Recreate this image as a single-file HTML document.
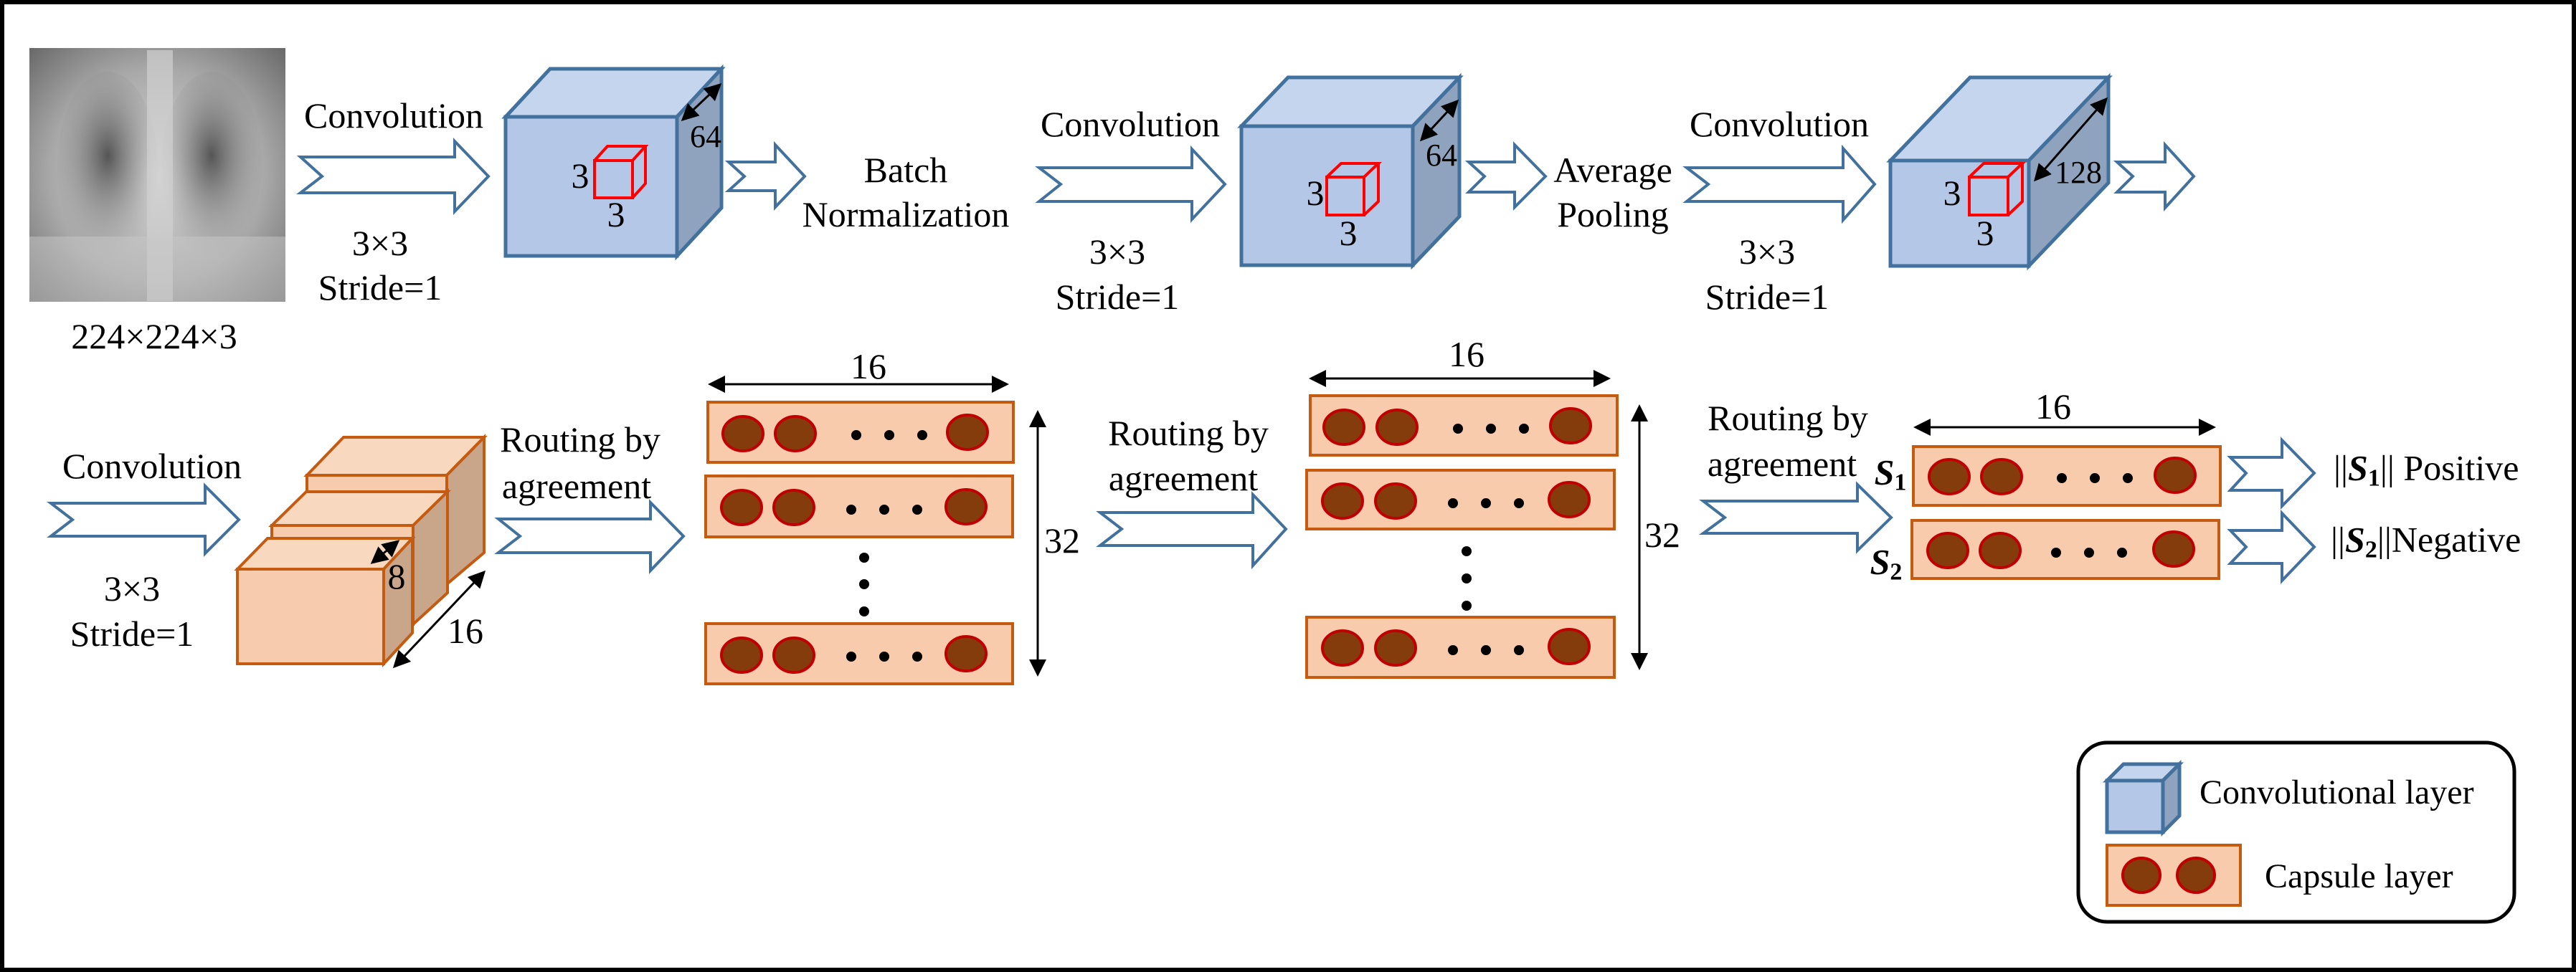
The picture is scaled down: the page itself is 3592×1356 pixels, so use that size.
<!DOCTYPE html>
<html><head><meta charset="utf-8"><style>
html,body{margin:0;padding:0;background:#fff;}
body{position:relative;width:3592px;height:1356px;overflow:hidden;}
svg{display:block;position:absolute;left:0;top:0;}
.t{position:absolute;font-family:"Liberation Serif","Times New Roman",serif;font-size:50px;line-height:1;color:#000;white-space:nowrap;transform:translate(-50%,-50%);}
.l{position:absolute;font-family:"Liberation Serif","Times New Roman",serif;font-size:50px;line-height:1;color:#000;white-space:nowrap;transform:translate(0,-50%);}
.s{font-weight:bold;font-style:italic;}
.s sub{font-size:34px;font-style:normal;vertical-align:-8px;}
</style></head><body>
<svg width="3592" height="1356" viewBox="0 0 3592 1356" xmlns="http://www.w3.org/2000/svg">
<defs>
<marker id="ah" markerWidth="8" markerHeight="8" refX="7" refY="4" orient="auto-start-reverse" markerUnits="strokeWidth"><path d="M0,0 L8,4 L0,8 z" fill="#000"/></marker>
<radialGradient id="xr" cx="50%" cy="50%" r="70%"><stop offset="0" stop-color="#d8d8d8"/><stop offset="0.6" stop-color="#a8a8a8"/><stop offset="1" stop-color="#6a6a6a"/></radialGradient>
<radialGradient id="lung" cx="50%" cy="45%" r="55%"><stop offset="0" stop-color="#555"/><stop offset="1" stop-color="#999" stop-opacity="0"/></radialGradient>
</defs>
<rect x="3" y="3" width="3586" height="1350" fill="#fff" stroke="#000" stroke-width="6"/>

<rect x="41" y="67" width="357" height="354" fill="url(#xr)"/>
<ellipse cx="150" cy="230" rx="70" ry="130" fill="url(#lung)"/>
<ellipse cx="295" cy="230" rx="70" ry="130" fill="url(#lung)"/>
<rect x="205" y="70" width="36" height="350" fill="#d0d0d0" opacity="0.7"/>
<rect x="41" y="330" width="357" height="91" fill="#c8c8c8" opacity="0.5"/>

<g fill="#fff" stroke="#41719c" stroke-width="4" stroke-linejoin="miter">
<polygon points="419,219 634,219 634,197 681,246 634,295 634,269 419,269 449,246"/>
<polygon points="1016,226 1081,226 1081,202 1122,246 1081,289 1081,266 1016,266 1038,246"/>
<polygon points="1449,234 1662,234 1662,208 1708,257 1662,306 1662,281 1449,281 1479,257"/>
<polygon points="2048,226 2112,226 2112,202 2155,246 2112,289 2112,268 2048,268 2070,246"/>
<polygon points="2352,234 2570,234 2570,207 2614,257 2570,307 2570,281 2352,281 2382,257"/>
<polygon points="2952,226 3019,226 3019,202 3059,246 3019,290 3019,268 2952,268 2974,246"/>
<polygon points="71,702 286,702 286,678 333,725 286,772 286,748 71,748 101,725"/>
<polygon points="695,724 907,724 907,701 953,748 907,796 907,771 695,771 725,748"/>
<polygon points="1534,715 1747,715 1747,690 1793,738 1747,789 1747,761 1534,761 1564,738"/>
<polygon points="2375,699 2590,699 2590,676 2637,722 2590,768 2590,744 2375,744 2405,722"/>
<polygon points="3110,638 3182,638 3182,614 3227,660 3182,706 3182,684 3110,684 3132,660"/>
<polygon points="3110,740 3182,740 3182,716 3227,763 3182,810 3182,786 3110,786 3132,763"/>
</g>

<g stroke="#41719c" stroke-width="5" stroke-linejoin="miter">
<rect x="705" y="163" width="239" height="194" fill="#b4c7e7"/>
<polygon points="705,163 767,96 1006,96 944,163" fill="#c5d5ee"/>
<polygon points="944,163 1006,96 1006,290 944,357" fill="#8fa3bf"/>
<rect x="1731" y="176" width="239" height="194" fill="#b4c7e7"/>
<polygon points="1731,176 1796,108 2035,108 1970,176" fill="#c5d5ee"/>
<polygon points="1970,176 2035,108 2035,302 1970,370" fill="#8fa3bf"/>
<rect x="2636" y="224" width="193" height="147" fill="#b4c7e7"/>
<polygon points="2636,224 2747,108 2940,108 2829,224" fill="#c5d5ee"/>
<polygon points="2829,224 2940,108 2940,255 2829,371" fill="#8fa3bf"/>
<rect x="2938" y="1089" width="78" height="72" fill="#b4c7e7"/>
<polygon points="2938,1089 2961,1066 3039,1066 3016,1089" fill="#c5d5ee"/>
<polygon points="3016,1089 3039,1066 3039,1138 3016,1161" fill="#8fa3bf"/>
</g>
<g fill="none" stroke="#ff0000" stroke-width="4">
<rect x="829" y="224" width="53" height="52"/><polyline points="829,224 847,204 900,204 882,224"/><polyline points="900,204 900,256 882,276"/>
<rect x="1850" y="247" width="52" height="53"/><polyline points="1850,247 1870,228 1922,228 1902,247"/><polyline points="1922,228 1922,281 1902,300"/>
<rect x="2746" y="247" width="54" height="53"/><polyline points="2746,247 2766,228 2820,228 2800,247"/><polyline points="2820,228 2820,281 2800,300"/>
</g>

<g stroke="#c55a11" stroke-width="4">
<rect x="428" y="663" width="195" height="152" fill="#f7cbad"/>
<polygon points="428,663 479,610 675,610 623,663" fill="#f8d9c0"/>
<polygon points="623,663 675,610 675,771 623,815" fill="#c9a58a"/>
<rect x="379" y="733" width="197" height="138" fill="#f7cbad"/>
<polygon points="379,733 427,686 624,686 576,733" fill="#f8d9c0"/>
<polygon points="576,733 624,686 624,827 576,871" fill="#c9a58a"/>
<rect x="331" y="794" width="204" height="132" fill="#f7cbad"/>
<polygon points="331,794 373,751 575,751 535,794" fill="#f8d9c0"/>
<polygon points="535,794 575,751 575,883 535,926" fill="#c9a58a"/>
</g>

<g stroke="#000" stroke-width="3" marker-start="url(#ah)" marker-end="url(#ah)">
<line x1="1004" y1="118" x2="952" y2="167"/>
<line x1="2032" y1="141" x2="1982" y2="195"/>
<line x1="2937" y1="138" x2="2838" y2="251"/>
<line x1="519" y1="785" x2="555" y2="755"/>
<line x1="550" y1="930" x2="675" y2="798"/>
<line x1="990" y1="536" x2="1404" y2="536"/>
<line x1="1447" y1="575" x2="1447" y2="941"/>
<line x1="1828" y1="528" x2="2243" y2="528"/>
<line x1="2286" y1="567" x2="2286" y2="932"/>
<line x1="2671" y1="596" x2="3087" y2="596"/>
</g>

<g stroke="#c55a11" stroke-width="4" fill="#f8cbad">
<rect x="987" y="561" width="426" height="84"/>
<rect x="984" y="664" width="428" height="85"/>
<rect x="984" y="870" width="428" height="84"/>
<rect x="1827" y="552" width="428" height="83"/>
<rect x="1822" y="656" width="429" height="82"/>
<rect x="1822" y="861" width="429" height="84"/>
<rect x="2668" y="623" width="428" height="82"/>
<rect x="2666" y="726" width="428" height="81"/>
<rect x="2938" y="1179" width="186" height="84"/>
</g>
<g fill="#843c0c" stroke="#c00000" stroke-width="4">
<ellipse cx="1036" cy="605" rx="28" ry="24"/><ellipse cx="1109" cy="605" rx="28" ry="24"/><ellipse cx="1349" cy="603" rx="28" ry="24"/>
<ellipse cx="1034" cy="708" rx="28" ry="24"/><ellipse cx="1107" cy="708" rx="28" ry="24"/><ellipse cx="1347" cy="707" rx="28" ry="24"/>
<ellipse cx="1034" cy="914" rx="28" ry="24"/><ellipse cx="1107" cy="914" rx="28" ry="24"/><ellipse cx="1347" cy="912" rx="28" ry="24"/>
<ellipse cx="1874" cy="596" rx="28" ry="24"/><ellipse cx="1948" cy="596" rx="28" ry="24"/><ellipse cx="2190" cy="594" rx="28" ry="24"/>
<ellipse cx="1872" cy="699" rx="28" ry="24"/><ellipse cx="1946" cy="699" rx="28" ry="24"/><ellipse cx="2188" cy="697" rx="28" ry="24"/>
<ellipse cx="1872" cy="904" rx="28" ry="24"/><ellipse cx="1946" cy="904" rx="28" ry="24"/><ellipse cx="2188" cy="902" rx="28" ry="24"/>
<ellipse cx="2718" cy="665" rx="28" ry="24"/><ellipse cx="2791" cy="665" rx="28" ry="24"/><ellipse cx="3033" cy="663" rx="28" ry="24"/>
<ellipse cx="2716" cy="768" rx="28" ry="24"/><ellipse cx="2789" cy="768" rx="28" ry="24"/><ellipse cx="3031" cy="766" rx="28" ry="24"/>
<ellipse cx="2986" cy="1221" rx="26" ry="24"/><ellipse cx="3062" cy="1221" rx="26" ry="24"/>
</g>
<g fill="#000">
<circle cx="1194" cy="607" r="7"/><circle cx="1240" cy="607" r="7"/><circle cx="1286" cy="607" r="7"/>
<circle cx="1187" cy="711" r="7"/><circle cx="1233" cy="711" r="7"/><circle cx="1279" cy="711" r="7"/>
<circle cx="1187" cy="916" r="7"/><circle cx="1233" cy="916" r="7"/><circle cx="1279" cy="916" r="7"/>
<circle cx="1205" cy="778" r="7"/><circle cx="1205" cy="815" r="7"/><circle cx="1205" cy="853" r="7"/>
<circle cx="2033" cy="598" r="7"/><circle cx="2079" cy="598" r="7"/><circle cx="2125" cy="598" r="7"/>
<circle cx="2026" cy="702" r="7"/><circle cx="2072" cy="702" r="7"/><circle cx="2118" cy="702" r="7"/>
<circle cx="2026" cy="907" r="7"/><circle cx="2072" cy="907" r="7"/><circle cx="2118" cy="907" r="7"/>
<circle cx="2045" cy="769" r="7"/><circle cx="2045" cy="807" r="7"/><circle cx="2045" cy="845" r="7"/>
<circle cx="2875" cy="667" r="7"/><circle cx="2921" cy="667" r="7"/><circle cx="2967" cy="667" r="7"/>
<circle cx="2867" cy="771" r="7"/><circle cx="2913" cy="771" r="7"/><circle cx="2959" cy="771" r="7"/>
</g>
<rect x="2898" y="1036" width="608" height="250" rx="40" ry="40" fill="none" stroke="#000" stroke-width="5"/>
</svg>

<div class="t" style="left:215px;top:469px">224×224×3</div>
<div class="t" style="left:809px;top:245px">3</div>
<div class="t" style="left:859px;top:299px">3</div>
<div class="t" style="left:984px;top:191px;font-size:44px">64</div>
<div class="t" style="left:1834px;top:269px">3</div>
<div class="t" style="left:1880px;top:325px">3</div>
<div class="t" style="left:2010px;top:217px;font-size:44px">64</div>
<div class="t" style="left:2722px;top:269px">3</div>
<div class="t" style="left:2768px;top:325px">3</div>
<div class="t" style="left:2898px;top:241px;font-size:44px">128</div>
<div class="t" style="left:549px;top:161px">Convolution</div>
<div class="t" style="left:530px;top:339px">3×3</div>
<div class="t" style="left:530px;top:401px">Stride=1</div>
<div class="t" style="left:1263px;top:237px">Batch</div>
<div class="t" style="left:1263px;top:299px">Normalization</div>
<div class="t" style="left:1576px;top:173px">Convolution</div>
<div class="t" style="left:1558px;top:351px">3×3</div>
<div class="t" style="left:1558px;top:414px">Stride=1</div>
<div class="t" style="left:2249px;top:237px">Average</div>
<div class="t" style="left:2249px;top:299px">Pooling</div>
<div class="t" style="left:2481px;top:173px">Convolution</div>
<div class="t" style="left:2464px;top:351px">3×3</div>
<div class="t" style="left:2464px;top:414px">Stride=1</div>
<div class="t" style="left:212px;top:650px">Convolution</div>
<div class="t" style="left:184px;top:821px">3×3</div>
<div class="t" style="left:184px;top:884px">Stride=1</div>
<div class="t" style="left:809px;top:613px">Routing by</div>
<div class="t" style="left:804px;top:678px">agreement</div>
<div class="t" style="left:1657px;top:604px">Routing by</div>
<div class="t" style="left:1650px;top:667px">agreement</div>
<div class="t" style="left:2493px;top:583px">Routing by</div>
<div class="t" style="left:2485px;top:647px">agreement</div>
<div class="t" style="left:1211px;top:511px">16</div>
<div class="t" style="left:1481px;top:754px">32</div>
<div class="t" style="left:2045px;top:494px">16</div>
<div class="t" style="left:2318px;top:746px">32</div>
<div class="t" style="left:2863px;top:567px">16</div>
<div class="t" style="left:553px;top:804px">8</div>
<div class="t" style="left:649px;top:880px">16</div>
<div class="t" style="left:2636px;top:662px"><span class="s">S<sub>1</sub></span></div>
<div class="t" style="left:2630px;top:787px"><span class="s">S<sub>2</sub></span></div>
<div class="l" style="left:3254px;top:656px">||<span class="s">S<sub>1</sub></span>|| Positive</div>
<div class="l" style="left:3250px;top:756px">||<span class="s">S<sub>2</sub></span>||Negative</div>
<div class="l" style="left:3067px;top:1106px;font-size:48px">Convolutional layer</div>
<div class="l" style="left:3158px;top:1223px;font-size:48px">Capsule layer</div>
</body></html>
